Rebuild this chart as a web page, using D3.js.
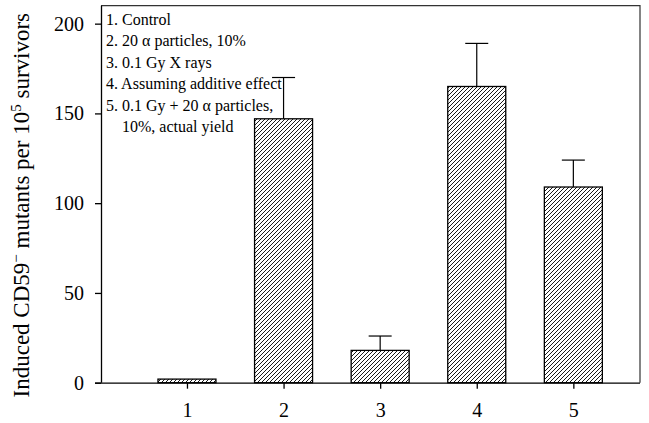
<!DOCTYPE html>
<html>
<head>
<meta charset="utf-8">
<script src="https://cdn.jsdelivr.net/npm/d3@7"></script>
<style>
  body { margin: 0; background: #fff; }
  svg text { font-family: "Liberation Serif", "Times New Roman", serif; fill: #000; }
</style>
</head>
<body>
<svg></svg>
<script>
const width = 649;
const height = 423;
const serif = "'Liberation Serif', 'Times New Roman', serif";

// data
const categories = [1, 2, 3, 4, 5];
const values = [2, 147, 18, 165, 109];
const errors = [0, 23, 8, 24, 15];
const yTicks = [0, 50, 100, 150, 200];
const legendLines = [
    "1. Control",
    "2. 20 \u03b1 particles, 10%",
    "3. 0.1 Gy X rays",
    "4. Assuming additive effect",
    "5. 0.1 Gy + 20 \u03b1 particles,",
    "10%, actual yield"
];

const svg = d3.select("svg")
    .attr("width", width)
    .attr("height", height);

const plot = { left: 101, right: 640, top: 5.7, bottom: 382.7 };

const x = d3.scaleLinear()
    .domain([0.11, 5.69])
    .range([plot.left, plot.right]);

const y = d3.scaleLinear()
    .domain([0, 210])
    .range([plot.bottom, plot.top]);

const barWidth = 58;

// hatch pattern
const defs = svg.append("defs");
defs.append("pattern")
    .attr("id", "hatch")
    .attr("patternUnits", "userSpaceOnUse")
    .attr("width", 4)
    .attr("height", 4)
    .append("path")
    .attr("d", "M-1,1 l2,-2 M0,4 l4,-4 M3,5 l2,-2")
    .attr("stroke", "#000")
    .attr("stroke-width", 0.9);

// frame (top + right)
svg.append("path")
    .attr("d", `M${plot.left},${plot.top} H${plot.right} V${plot.bottom}`)
    .attr("fill", "none")
    .attr("stroke", "#333")
    .attr("stroke-width", 1.2);

// bars
svg.append("g")
    .selectAll("rect")
    .data(categories)
    .enter().append("rect")
    .attr("x", (d, i) => x(d) - barWidth / 2)
    .attr("y", (d, i) => y(values[i]))
    .attr("width", barWidth)
    .attr("height", (d, i) => y(0) - y(values[i]))
    .attr("fill", "url(#hatch)")
    .attr("stroke", "#000")
    .attr("stroke-width", 1.3);

// error bars (upper only)
const err = svg.append("g")
    .selectAll("g")
    .data(categories.filter((d, i) => errors[i] > 0))
    .enter().append("g");

err.append("line")
    .attr("x1", d => x(d))
    .attr("x2", d => x(d))
    .attr("y1", d => y(values[d - 1]))
    .attr("y2", d => y(values[d - 1] + errors[d - 1]))
    .attr("stroke", "#000")
    .attr("stroke-width", 1.2);

err.append("line")
    .attr("x1", d => x(d) - 11.5)
    .attr("x2", d => x(d) + 11.5)
    .attr("y1", d => y(values[d - 1] + errors[d - 1]))
    .attr("y2", d => y(values[d - 1] + errors[d - 1]))
    .attr("stroke", "#000")
    .attr("stroke-width", 1.2);

// axes
const yAxis = svg.append("g")
    .attr("transform", `translate(${plot.left},0)`)
    .call(d3.axisLeft(y).tickValues(yTicks).tickSize(6).tickSizeOuter(0).tickPadding(11));

const xAxis = svg.append("g")
    .attr("transform", `translate(0,${plot.bottom})`)
    .call(d3.axisBottom(x).tickValues(categories).tickSize(6).tickSizeOuter(0).tickPadding(14).tickFormat(d3.format("d")));

xAxis.select(".domain").attr("d", `M${plot.left - 6},0.5H${plot.right}`);
yAxis.select(".domain").attr("d", `M0.5,${plot.bottom}V${plot.top}`);

[xAxis, yAxis].forEach(a => {
    a.attr("font-family", serif);
    a.selectAll("path, line").attr("stroke", "#000").attr("stroke-width", 1.3);
    a.selectAll("text")
        .attr("font-family", serif)
        .attr("font-size", 20)
        .attr("fill", "#000");
});

// y axis title
const title = svg.append("text")
    .attr("transform", `translate(29,${(plot.top + plot.bottom) / 2 + 11}) rotate(-90)`)
    .attr("text-anchor", "middle")
    .attr("font-family", serif)
    .attr("font-size", 23);
title.append("tspan").text("Induced CD59");
title.append("tspan").attr("dy", -8).attr("font-size", 15).text("\u2212");
title.append("tspan").attr("dy", 8).text(" mutants per 10");
title.append("tspan").attr("dy", -8).attr("font-size", 15).text("5");
title.append("tspan").attr("dy", 8).text(" survivors");

// legend text (last line is a continuation, indented)
svg.append("g")
    .attr("font-family", serif)
    .selectAll("text")
    .data(legendLines)
    .enter().append("text")
    .attr("x", (d, i) => i === 5 ? 122 : 106)
    .attr("y", (d, i) => 25 + i * 21.4)
    .attr("font-family", serif)
    .attr("font-size", 16)
    .text(d => d);
</script>
</body>
</html>
